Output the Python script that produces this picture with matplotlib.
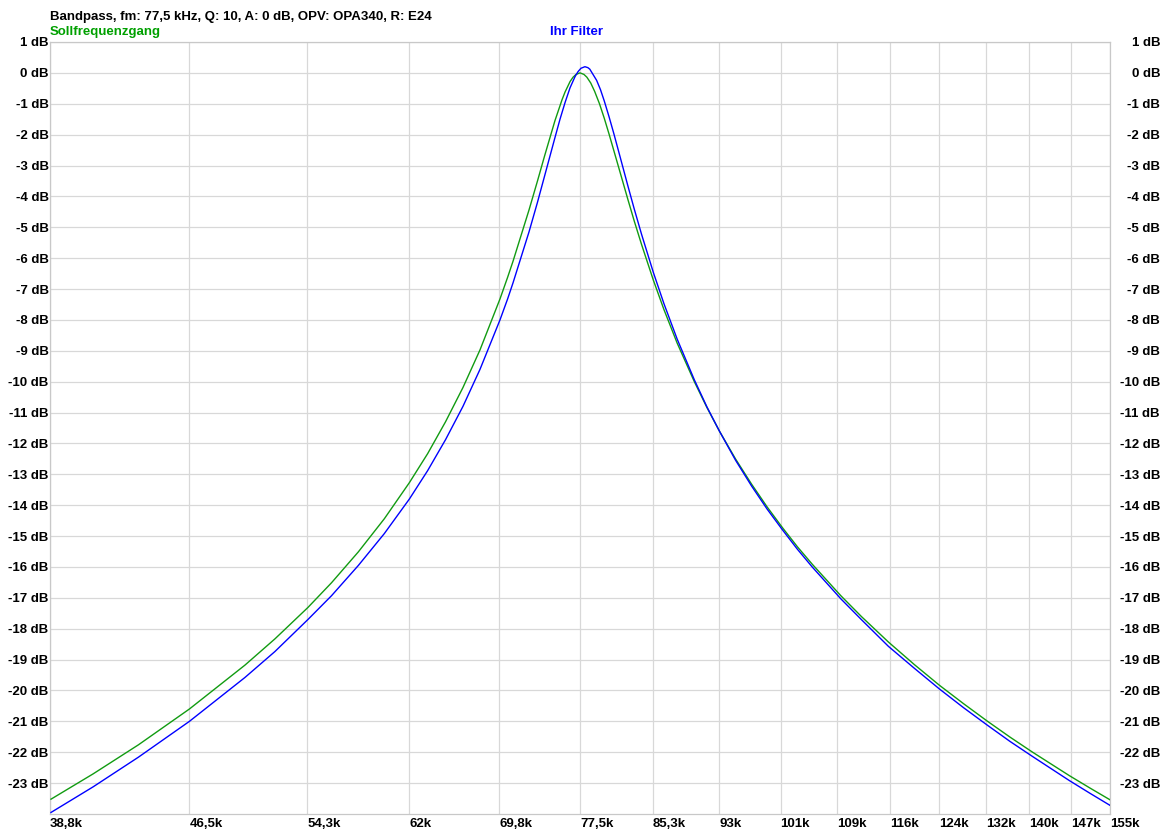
import matplotlib
matplotlib.use("Agg")
import matplotlib.pyplot as plt
from matplotlib.ticker import FixedLocator, NullLocator, FixedFormatter

plt.rcParams['font.family'] = ['Liberation Sans', 'DejaVu Sans']

# --- Frequenzgang-Daten (Frequenz in kHz, Pegel in dB) ---
soll_f = [38.8, 41, 43.5, 46.5, 50, 52, 54.3, 56, 58, 60, 62, 63.5, 65, 66.5, 68,
          69.8, 70.5, 71, 72.5, 73.3, 74, 75, 75.7, 76, 76.5, 76.8, 77.1, 77.5,
          77.9, 78.2, 78.6, 79, 79.5, 80, 80.5, 81, 81.7, 82.5, 83.2, 84, 85.3,
          86.5, 88, 90, 91.5, 93, 95, 97, 99, 101, 103, 105, 109, 112, 116, 120,
          124, 128, 132, 136, 140, 143.5, 147, 151, 155]
soll_db = [-23.52, -22.70, -21.76, -20.60, -19.18, -18.33, -17.31, -16.51, -15.51,
           -14.44, -13.27, -12.33, -11.30, -10.19, -8.97, -7.32, -6.62, -6.10,
           -4.44, -3.51, -2.68, -1.55, -0.87, -0.62, -0.28, -0.14, -0.05, 0.00,
           -0.05, -0.14, -0.33, -0.60, -1.00, -1.47, -1.98, -2.51, -3.25, -4.09,
           -4.80, -5.56, -6.71, -7.67, -8.75, -10.00, -10.84, -11.60, -12.51,
           -13.32, -14.06, -14.73, -15.35, -15.91, -16.93, -17.61, -18.43, -19.16,
           -19.83, -20.43, -20.99, -21.51, -21.99, -22.38, -22.76, -23.16, -23.54]

filter_f = [38.8, 41, 43.5, 46.5, 50, 52, 54.3, 56, 58, 60, 62, 63.5, 65, 66.5, 68,
            69.8, 70.5, 71, 72.5, 73.3, 74, 75, 75.5, 76, 76.5, 77, 77.3, 77.6, 78,
            78.3, 78.5, 79.2, 79.6, 80, 80.5, 81, 81.7, 82.5, 83.2, 84, 85.3, 86.5,
            88, 90, 91.5, 93, 95, 97, 99, 101, 103, 105, 109, 112, 116, 120, 124,
            128, 132, 136, 140, 143.5, 147, 151, 155]
filter_db = [-23.95, -23.12, -22.16, -21.00, -19.58, -18.74, -17.70, -16.93, -15.95,
             -14.92, -13.80, -12.88, -11.88, -10.80, -9.60, -8.00, -7.32, -6.80,
             -5.15, -4.20, -3.33, -2.10, -1.50, -0.96, -0.48, -0.12, 0.04, 0.15,
             0.20, 0.17, 0.12, -0.24, -0.54, -0.91, -1.42, -1.96, -2.75, -3.65,
             -4.41, -5.23, -6.46, -7.48, -8.62, -9.94, -10.82, -11.60, -12.55,
             -13.38, -14.13, -14.80, -15.43, -16.00, -17.03, -17.71, -18.57, -19.28,
             -19.95, -20.56, -21.12, -21.65, -22.13, -22.53, -22.92, -23.33, -23.72]

x_ticks = [38.75, 46.5, 54.25, 62, 69.75, 77.5, 85.25, 93, 100.75, 108.5, 116.25,
           124, 131.75, 139.5, 147.25, 155]
x_labels = ['38,8k', '46,5k', '54,3k', '62k', '69,8k', '77,5k', '85,3k', '93k',
            '101k', '109k', '116k', '124k', '132k', '140k', '147k', '155k']
y_ticks = list(range(1, -24, -1))
y_labels = [f'{v} dB' for v in y_ticks]

GRID = '#d8d8d8'
GREEN = '#119b11'
BLUE = '#0000ff'

W, H = 1165, 830
fig = plt.figure(figsize=(W / 100, H / 100), dpi=100)
ax = fig.add_axes([50 / W, 1 - 814 / H, 1060 / W, 772 / H])

ax.set_xscale('log')
ax.set_xlim(38.75, 155)
ax.set_ylim(-24, 1)

ax.plot(soll_f, soll_db, color=GREEN, lw=1.0, zorder=3)
ax.plot(filter_f, filter_db, color=BLUE, lw=1.0, zorder=4)

ax.xaxis.set_major_locator(FixedLocator(x_ticks))
ax.xaxis.set_major_formatter(FixedFormatter(x_labels))
ax.xaxis.set_minor_locator(NullLocator())
ax.set_yticks(y_ticks)
ax.set_yticklabels(y_labels)

ax.grid(True, color=GRID, lw=0.9)
ax.set_axisbelow(True)
for sp in ax.spines.values():
    sp.set_color('#c8c8c8')
    sp.set_linewidth(0.9)

ax.tick_params(axis='both', length=0, labelsize=9.5, colors='black')
ax.tick_params(axis='x', pad=3)
ax.tick_params(axis='y', pad=1)
for lab in ax.get_xticklabels():
    lab.set_horizontalalignment('left')
    lab.set_fontweight('bold')
for lab in ax.get_yticklabels():
    lab.set_fontweight('bold')

# rechte Achsenbeschriftung, rechtsbündig am Bildrand
ax2 = ax.twinx()
ax2.set_ylim(ax.get_ylim())
ax2.set_yticks(y_ticks)
ax2.set_yticklabels(y_labels)
ax2.tick_params(axis='y', length=0, labelsize=9.5, pad=36)
for lab in ax2.get_yticklabels():
    lab.set_horizontalalignment('right')
    lab.set_fontweight('bold')
for sp in ax2.spines.values():
    sp.set_visible(False)

fig.text(50 / W, 1 - 17 / H, 'Bandpass, fm: 77,5 kHz, Q: 10, A: 0 dB, OPV: OPA340, R: E24',
         fontsize=9.5, fontweight='bold', va='center', ha='left')
fig.text(50 / W, 1 - 32 / H, 'Sollfrequenzgang', color='#00a000',
         fontsize=9.5, fontweight='bold', va='center', ha='left')
fig.text(577 / W, 1 - 32 / H, 'Ihr Filter', color=BLUE,
         fontsize=9.5, fontweight='bold', va='center', ha='center')

fig.savefig('out.png', dpi=100, facecolor='white')
